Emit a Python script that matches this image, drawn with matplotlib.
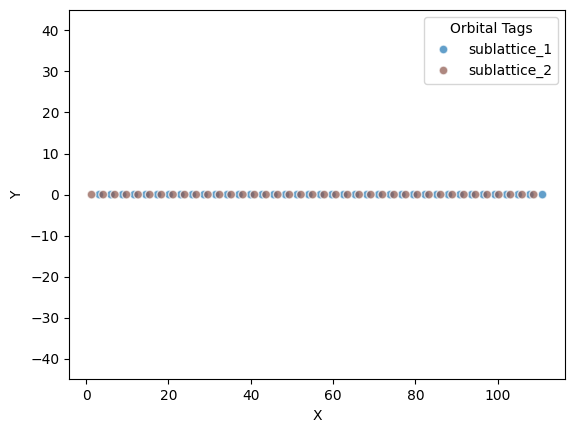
# import packages
import matplotlib
matplotlib.use('Agg')
import matplotlib.pyplot as plt
import pandas as pd
import seaborn as sns

# orbital positions
x_sub1 = [3.23, 6.06, 8.88, 11.71, 14.54, 17.36, 20.19, 23.02, 25.84, 28.67,
          31.50, 34.32, 37.15, 39.98, 42.80, 45.63, 48.46, 51.28, 54.11, 56.94,
          59.76, 62.59, 65.42, 68.24, 71.07, 73.90, 76.72, 79.55, 82.38, 85.20,
          88.03, 90.86, 93.68, 96.51, 99.34, 102.16, 104.99, 107.82, 110.87]
x_sub2 = [1.33, 4.16, 6.98, 9.81, 12.64, 15.46, 18.29, 21.12, 23.94, 26.77,
          29.60, 32.42, 35.25, 38.08, 40.90, 43.73, 46.56, 49.38, 52.21, 55.04,
          57.86, 60.69, 63.52, 66.34, 69.17, 72.00, 74.82, 77.65, 80.48, 83.30,
          86.13, 88.96, 91.78, 94.61, 97.44, 100.26, 103.09, 105.92, 108.74]
y_sub1 = [0.0] * len(x_sub1)
y_sub2 = [0.0] * len(x_sub2)

# blue goes first so brown sits on top of it
df = pd.DataFrame({
    'X': x_sub1 + x_sub2,
    'Y': y_sub1 + y_sub2,
    'Orbital Tags': ['sublattice_1'] * len(x_sub1) + ['sublattice_2'] * len(x_sub2),
})

fig = plt.figure(figsize=(5.74, 4.32), dpi=100)
ax = fig.add_axes([69 / 574, 52.6 / 432, 496 / 574, 369.6 / 432])

sns.scatterplot(data=df, x='X', y='Y', hue='Orbital Tags', alpha=0.7, s=40, linewidth=1.0, ax=ax,
                palette={'sublattice_1': 'tab:blue', 'sublattice_2': 'tab:brown'})
ax.set_ylim(-45, 45)
ax.legend(title='Orbital Tags', loc='upper right')

fig.savefig('out.png', dpi=100)
